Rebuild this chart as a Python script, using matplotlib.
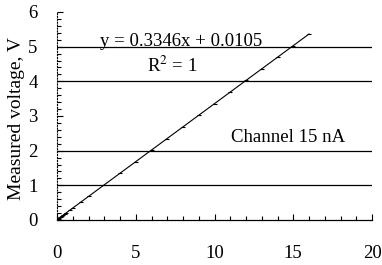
import matplotlib.pyplot as plt
from matplotlib.ticker import MultipleLocator

plt.rcParams["font.family"] = ["Liberation Serif", "DejaVu Serif"]

# measured points (current, nA -> voltage, V)
x_vals = [0.02, 0.05, 0.08, 0.1, 0.15, 0.2, 0.25, 0.3, 0.4, 0.5, 0.6, 0.8,
          1.0, 1.5, 2.0, 3.0, 4.0, 5.0, 6.0, 7.0, 8.0, 9.0, 10.0, 11.0,
          12.0, 13.0, 14.0, 15.0, 16.0]
y_vals = [0.02, 0.03, 0.04, 0.04, 0.06, 0.08, 0.09, 0.11, 0.14, 0.18, 0.21,
          0.28, 0.35, 0.51, 0.68, 1.01, 1.35, 1.68, 2.02, 2.35, 2.69, 3.02,
          3.36, 3.69, 4.03, 4.36, 4.69, 5.03, 5.36]

slope = 0.3346
intercept = 0.0105
fit_x = [0.0, 16.0]

W, H = 382, 265
fig = plt.figure(figsize=(W / 100, H / 100), dpi=100)
ax = fig.add_axes([57 / W, 45 / H, 315 / W, 208 / H])

ax.set_xlim(0, 20)
ax.set_ylim(0, 6)

for yv in [1, 2, 4, 5]:
    ax.axhline(yv, color="black", lw=0.9, zorder=1)

ax.plot(x_vals, y_vals, ls="none", marker="_", ms=3, mew=0.8, color="black", zorder=3)
ax.plot(fit_x, [slope * v + intercept for v in fit_x], color="black", lw=0.8, zorder=2)

ax.xaxis.set_major_locator(MultipleLocator(5))
ax.xaxis.set_minor_locator(MultipleLocator(1))
ax.yaxis.set_major_locator(MultipleLocator(1))
ax.yaxis.set_minor_locator(MultipleLocator(0.2))
ax.tick_params(which="both", direction="in", color="black", labelsize=13.5)
ax.tick_params(which="major", length=4, width=0.8)
ax.tick_params(which="minor", length=3, width=0.8)
ax.tick_params(axis="x", pad=18)
ax.tick_params(axis="y", pad=14)

for side in ["top", "right"]:
    ax.spines[side].set_visible(False)
ax.spines["left"].set_linestyle(":")
ax.spines["left"].set_linewidth(0.8)
ax.spines["bottom"].set_linewidth(0.9)

ax.set_ylabel("Measured voltage, V", fontsize=14, va="center")
ax.yaxis.set_label_coords(-0.13, 0.49)

fig.text(181 / W, 1 - 42 / H, "y = 0.3346x + 0.0105", fontsize=13.5,
         ha="center", va="center")
fig.text(172 / W, 1 - 66 / H, "R$^{2}$ = 1", fontsize=13.5, ha="center",
         va="center", math_fontfamily="stix")
fig.text(288 / W, 1 - 137 / H, "Channel 15 nA", fontsize=13.5,
         ha="center", va="center")

fig.savefig("out.png", dpi=100)
